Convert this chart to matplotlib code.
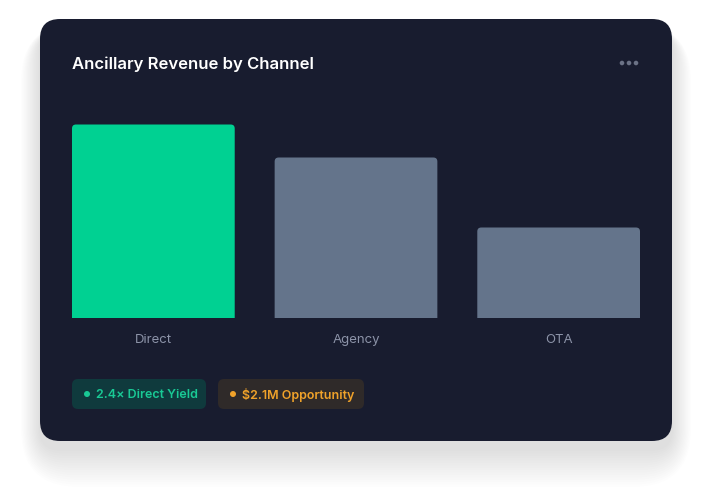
import matplotlib
matplotlib.use("Agg")
import matplotlib.pyplot as plt
from matplotlib.patches import FancyBboxPatch, Ellipse

plt.rcParams["font.family"] = ["Inter", "DejaVu Sans"]

# data (heights, arbitrary units)
channels = ["Direct", "Agency", "OTA"]
revenue = [9.65, 8.0, 4.5]
bar_colors = ["#00d192", "#64748b", "#64748b"]
badge_texts = ["2.4× Direct Yield", "$2.1M Opportunity"]

W, H = 712, 502
fig = plt.figure(figsize=(W / 100, H / 100), dpi=100)
fig.patch.set_facecolor("white")


def px(x, y):
    # pixel (top-left origin) -> figure fraction
    return x / W, 1 - y / H


def rbox(x0, y0, x1, y1, r, **kw):
    return FancyBboxPatch((x0 / W, 1 - y1 / H), (x1 - x0) / W, (y1 - y0) / H,
                          boxstyle="round,pad=0,rounding_size=%f" % (r / W),
                          mutation_aspect=W / H, transform=fig.transFigure, **kw)


def dot(x, y, r, c):
    fig.patches.append(Ellipse(px(x, y), 2 * r / W, 2 * r / H, transform=fig.transFigure,
                               facecolor=c, linewidth=0, zorder=-1))


# soft shadow under the card
for i in range(16):
    g = 2 + i * 2.4
    fig.patches.append(rbox(40 - g * 0.5, 20 + 12 - g * 0.2, 672 + g * 0.5, 442 + 8 + g,
                            20 + g, facecolor="#000000", alpha=0.007, linewidth=0, zorder=-3))

# card
fig.patches.append(rbox(40, 20, 672, 442, 20, facecolor="#181c2f", linewidth=0, zorder=-2))

# title + menu dots
fig.text(*px(72, 64.5), "Ancillary Revenue by Channel", color="white", fontsize=12,
         fontweight="semibold", va="center", ha="left")
for dx in (-7, 0, 7):
    dot(629 + dx, 64, 2.3, "#6b7286")

# bars
bw = 163 / 203
ax_l, ax_r, ax_t, ax_b = 72, 640, 100.5, 318.5
ax = fig.add_axes([ax_l / W, 1 - ax_b / H, (ax_r - ax_l) / W, (ax_b - ax_t) / H])
ax.set_facecolor("none")
ax.set_xlim(-bw / 2, len(channels) - 1 + bw / 2)
ymax = 10.9
ax.set_ylim(0, ymax)
for s in ax.spines.values():
    s.set_visible(False)
ax.set_yticks([])
ax.set_xticks(range(len(channels)))
ax.set_xticklabels(channels)
ax.tick_params(axis="x", length=0, pad=11, labelsize=9.5, labelcolor="#8c93a8")

# rounded-top bars
unit_x = (ax_r - ax_l) / (len(channels) - 1 + bw)
unit_y = (ax_b - ax_t) / ymax
r = 4 / unit_x
for i, (v, c) in enumerate(zip(revenue, bar_colors)):
    p = FancyBboxPatch((i - bw / 2, -1), bw, v + 1,
                       boxstyle="round,pad=0,rounding_size=%f" % r,
                       mutation_aspect=unit_x / unit_y,
                       facecolor=c, linewidth=0, clip_on=True)
    ax.add_patch(p)

# badges
badges = [(72, 206, "#0f3a3d", "#19c995"), (218, 364, "#2f2a29", "#f0a22a")]
for (x0, x1, bg, fg), txt in zip(badges, badge_texts):
    fig.patches.append(rbox(x0, 380, x1, 410, 6, facecolor=bg, linewidth=0, zorder=-1))
    dot(x0 + 15, 395, 3, fg)
    fig.text(*px(x0 + 24, 395.5), txt, color=fg, fontsize=9, fontweight="semibold",
             va="center", ha="left")

fig.savefig("out.png", dpi=100, facecolor="white")
